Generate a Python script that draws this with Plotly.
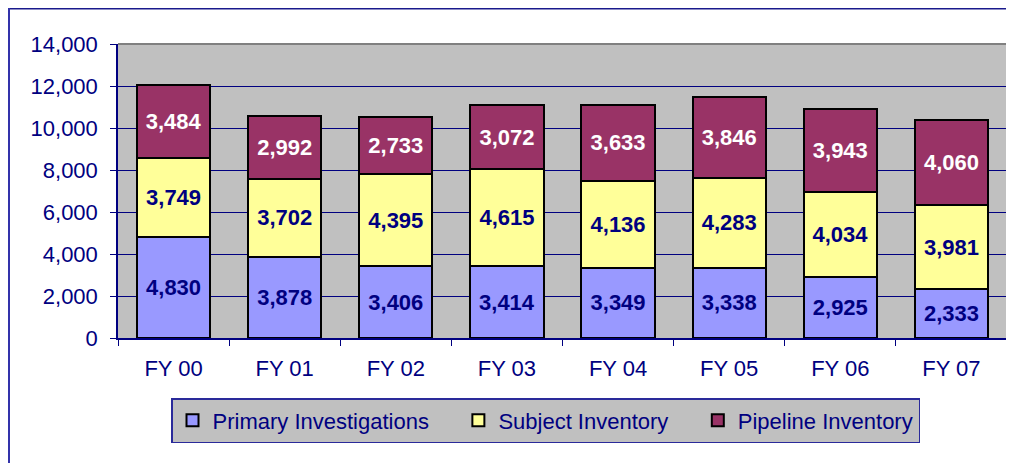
import plotly.graph_objects as go

categories = ["FY 00", "FY 01", "FY 02", "FY 03", "FY 04", "FY 05", "FY 06", "FY 07"]
primary = [4830, 3878, 3406, 3414, 3349, 3338, 2925, 2333]
subject = [3749, 3702, 4395, 4615, 4136, 4283, 4034, 3981]
pipeline = [3484, 2992, 2733, 3072, 3633, 3846, 3943, 4060]
y_ticks = [0, 2000, 4000, 6000, 8000, 10000, 12000, 14000]

NAVY = "#000080"
FONT = "Liberation Sans, Arial, sans-serif"
PAD = "\u00a0" * 4

series = [
    ("Primary Investigations" + PAD, primary, "#9999FF", NAVY),
    ("Subject Inventory" + PAD, subject, "#FFFF99", NAVY),
    ("Pipeline Inventory", pipeline, "#993366", "#FFFFFF"),
]

fig = go.Figure()
for name, vals, col, tcol in series:
    fig.add_trace(go.Bar(
        x=categories, y=vals, name=name,
        marker=dict(color=col, line=dict(color="#000000", width=2)),
        texttemplate="%{y:,}", textposition="inside", insidetextanchor="middle",
        textangle=0,
        textfont=dict(family=FONT, size=22, color=tcol, weight="bold"),
    ))

# page offset (browser body margin)
OFF = 8
FW, FH = 1014 - OFF, 463 - OFF
# plot area in page pixels: x 118..1007, y 44..338
L, R, T, B = 118 - OFF, FW - (1007 - OFF), 44 - OFF, FH - (338 - OFF)
W, H = FW - L - R, FH - T - B

def px(x):
    return (x - OFF - L) / W

def py(y):
    return (FH - B - (y - OFF)) / H

shapes = [
    dict(type="line", xref="paper", yref="paper", x0=0, x1=1, y0=1, y1=1,
         line=dict(color="#808080", width=2)),
    dict(type="line", xref="paper", yref="paper", x0=1, x1=1, y0=0, y1=1,
         line=dict(color="#808080", width=2)),
    dict(type="line", xref="paper", yref="paper", x0=px(8.5), x1=px(1020), y0=py(8.8), y1=py(8.8),
         line=dict(color="#1a1a8c", width=1.5)),
    dict(type="line", xref="paper", yref="paper", x0=px(9), x1=px(9), y0=py(8), y1=py(470),
         line=dict(color="#3333aa", width=2)),
]

fig.update_layout(
    barmode="stack",
    bargap=0.34,
    width=FW, height=FH,
    margin=dict(l=L, r=R, t=T, b=B),
    paper_bgcolor="#FFFFFF",
    plot_bgcolor="#C0C0C0",
    font=dict(family=FONT, color=NAVY, size=21),
    shapes=shapes,
    showlegend=True,
    legend=dict(
        orientation="h", x=px(171), y=py(398), xanchor="left", yanchor="top",
        bgcolor="#C0C0C0", bordercolor="#2a2a9a", borderwidth=1.5,
        font=dict(family=FONT, size=22, color=NAVY),
        traceorder="normal",
    ),
    uniformtext=dict(minsize=22, mode="show"),
)
fig.update_xaxes(
    showline=True, linecolor=NAVY, linewidth=1.5,
    ticks="outside", tickson="boundaries", ticklen=6, tickcolor=NAVY,
    tickfont=dict(family=FONT, size=22, color=NAVY),
    ticklabelstandoff=10,
    showgrid=False,
)
fig.update_yaxes(
    range=[0, 14000], tickvals=y_ticks, tickformat=",",
    showline=True, linecolor=NAVY, linewidth=1.5,
    ticks="outside", ticklen=6, tickcolor=NAVY,
    tickfont=dict(family=FONT, size=22, color=NAVY),
    ticklabelstandoff=8,
    showgrid=True, gridcolor=NAVY, gridwidth=1,
    zeroline=False,
)

fig.write_html("out.html")
